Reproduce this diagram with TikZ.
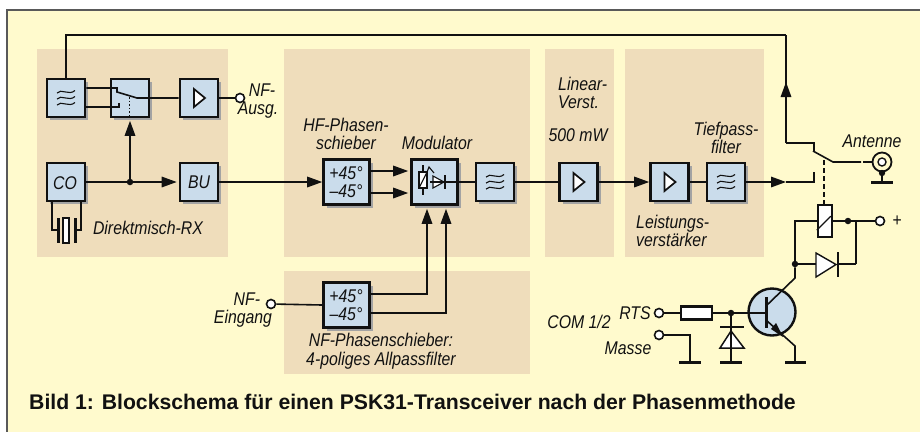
\documentclass[tikz,border=0pt]{standalone}
\usepackage{fontspec}
\setmainfont[FakeStretch=0.86]{Liberation Sans}
\newfontfamily\capfont{Liberation Sans}
\usetikzlibrary{shadows,arrows.meta,calc}
\definecolor{cream}{HTML}{FFFACD}
\definecolor{panel}{HTML}{EFDDBB}
\definecolor{boxblue}{HTML}{CADCEB}
\definecolor{shad}{HTML}{A3A3A3}
\definecolor{ink}{HTML}{111111}
\tikzset{
 panelbox/.style={fill=panel,draw=none},
 blk/.style={draw=ink,line width=2.6pt,fill=boxblue,inner sep=0pt,minimum width=38pt,minimum height=38pt,
   drop shadow={shadow xshift=3.2pt,shadow yshift=-3.2pt,fill=shad,opacity=1}},
 blkw/.style={blk,minimum width=46pt,minimum height=45pt},
 lbl/.style={inner sep=0pt,font=\itshape\fontsize{18.4}{18.6}\selectfont,text=ink},
 wire/.style={draw=ink,line width=1.6pt},
 arr/.style={wire,-{Triangle[length=15pt,width=10.5pt]}},
 term/.style={circle,draw=ink,line width=1.6pt,fill=white,minimum size=9pt,inner sep=0pt},
 dotj/.style={circle,fill=ink,minimum size=6.5pt,inner sep=0pt},
 wsym/.style={draw=ink,line width=1.4pt,fill=white},
 gnd/.style={draw=ink,line width=3pt},
}
\newcommand{\filtsym}[1]{%
 \foreach \dy in {-6,0,6}{
  \draw[draw=ink,line width=1.1pt] ($(#1)+(-9,\dy+1)$) .. controls ($(#1)+(-5,\dy-4)$) and ($(#1)+(3,\dy+4)$) .. ($(#1)+(9,\dy-1.5)$);
 }}
\newcommand{\ampsym}[1]{%
 \draw[wsym,line width=1.7pt,line join=miter] ($(#1)+(-5,-9)$) -- ($(#1)+(6,0)$) -- ($(#1)+(-5,9)$) -- cycle;}
\begin{document}
\begin{tikzpicture}[x=1pt,y=-1pt]
\useasboundingbox (0,0) rectangle (920,432);
\fill[white] (0,0) rectangle (920,432);
\fill[cream] (7,10) rectangle (920,432);
\draw[draw=black!65,line width=1.6pt] (920,10) -- (7,10) -- (7,432);
% panels
\fill[panelbox] (37,49) rectangle (228,257);
\fill[panelbox] (284,49) rectangle (530,257);
\fill[panelbox] (545,49) rectangle (614,257);
\fill[panelbox] (625,49) rectangle (764,257);
\fill[panelbox] (284,271) rectangle (530,374);
% blocks
\node[blk] (f1) at (66,98) {};
\node[blk] (sw) at (130,98) {};
\node[blk] (a1) at (199,98) {};
\node[blk] (co) at (66,182) {};
\node[blk] (bu) at (199,182) {};
\node[blkw] (hf) at (346.5,182) {};
\node[blkw] (mod) at (434.5,182) {};
\node[blk] (f2) at (495,182) {};
\node[blk] (a2) at (578.5,182) {};
\node[blkw] (nf) at (346.5,305) {};
\node[blk] (a3) at (669.5,182) {};
\node[blk] (f3) at (726,182) {};
\filtsym{f1}\filtsym{f2}\filtsym{f3}
\ampsym{a1}\ampsym{a2}\ampsym{a3}
% block texts
\node[lbl] (tco) at (65,183) {CO};
\node[lbl] (tbu) at (199,182) {BU};
\node[lbl,align=center] (thf) at (346,182) {+45°\\–45°};
\node[lbl,align=center] (tnf) at (346,305) {+45°\\–45°};
% free labels
\node[lbl,align=right] (tnfa) at (258,101) {NF-\rule{3pt}{0pt}\\Ausg.};
\node[lbl] (tdir) at (148,228) {Direktmisch-RX};
\node[lbl,align=center] (thfp) at (346,134) {HF-Phasen-\\schieber};
\node[lbl] (tmod) at (437,143) {Modulator};
\node[lbl,align=left,anchor=west] (tlin) at (558,93) {Linear-\\Verst.};
\node[lbl] (t500) at (578,135) {500 mW};
\node[lbl,align=center] (ttp) at (726,138) {Tiefpass-\\filter};
\node[lbl] (tant) at (872,141) {Antenne};
\node[lbl,align=left,anchor=west] (tlv) at (636,231) {Leistungs-\\verstärker};
\node[lbl] (tplus) at (897,221) {+};
\node[lbl] (tcom) at (579,322) {COM 1/2};
\node[lbl] (trts) at (635,313) {RTS};
\node[lbl] (tmas) at (628,348) {Masse};
\node[lbl,align=right] (tnfe) at (243,310) {NF-\rule{12pt}{0pt}\\Eingang};
\node[lbl,align=center] (tnfp) at (381,351) {NF-Phasenschieber:\\4-poliges Allpassfilter};
\node[inner sep=0pt,anchor=west,font=\capfont\bfseries\fontsize{21.2}{22}\selectfont,text=ink] (tcap) at (29,402) {Bild 1: Blockschema für einen PSK31-Transceiver nach der Phasenmethode};
% terminals and junctions
\node[term] (tnout) at (240,98) {};
\node[term] (tnin) at (271,304) {};
\node[term] (trt) at (659,313) {};
\node[term] (tma) at (659,335) {};
\node[term] (tpl) at (880,221) {};
\node[dotj] (j1) at (130,182) {};
\node[dotj] (j2) at (848,221) {};
\node[dotj] (j3) at (795,264) {};
\node[dotj] (j4) at (731,313) {};
% top feedback
\coordinate (ttop) at (786,35);
\coordinate (tmid) at (786,143);
\coordinate (swc) at (814,143);
\draw[wire] (f1.north) -- (66,35) -- (ttop);
\draw[wire] (ttop) -- (tmid);
\draw[arr] (tmid) -- (786,82);
\draw[wire] (tmid) -- (swc) -- (814,152);
% RX switch
\coordinate (s1) at (117,92);
\coordinate (s2) at (119,103);
\coordinate (s3) at (137,98);
\draw[wire] (f1.east |- 0,88) -- (117,88) -- (s1) -- (s3) -- (a1.west |- s3);
\draw[wire] (f1.east |- 0,107) -- (119,107) -- (s2);
\draw[wire,dotted,line width=1.7pt] (129.5,97) -- (129.5,117);
\draw[arr,shorten >=2.5pt] (j1) -- (sw.south -| j1);
\draw[arr,shorten >=2pt] (co.east) -- (bu.west);
\draw[wire] (a1.east) -- (tnout);
% crystal
\coordinate (q1) at (52,230);
\coordinate (q2) at (81,230);
\draw[wire] (52,201) -- (q1) -- (58,230);
\draw[wire] (81,201) -- (q2) -- (75,230);
\draw[draw=ink,line width=3pt] (58,218) -- (58,243) (75,218) -- (75,243);
\draw[wsym] (63,218) rectangle (69,243);
% main path
\draw[arr] (bu.east) -- (hf.west);
\draw[arr,shorten >=2pt] (hf.east |- 0,171) -- (mod.west |- 0,171);
\draw[arr,shorten >=2pt] (hf.east |- 0,193) -- (mod.west |- 0,193);
\draw[arr,shorten >=3pt] (nf.east |- 0,294) -- (427,294) -- (mod.south -| 427,0);
\draw[arr,shorten >=3pt] (nf.east |- 0,313) -- (446,313) -- (mod.south -| 446,0);
\draw[wire] (tnin) -- (nf.west);
% modulator symbol
\draw[draw=ink,line width=1.1pt] (423,165) -- (423,195);
\draw[wsym] (419,172) rectangle (427,188);
\draw[draw=ink,line width=1.1pt] (419,188) -- (427,172) -- (429,167) -- (434,173);
\draw[draw=ink,line width=1.1pt,fill=white] (433,176) -- (444,182) -- (433,188) -- cycle;
\draw[draw=ink,line width=1.7pt] (445,175) -- (445,189);
\draw[wire] (430,182) -- (f2.west);
\draw[wire] (f2.east) -- (a2.west);
\draw[arr] (a2.east) -- (a3.west);
\draw[wire] (a3.east) -- (f3.west);
% output switch
\coordinate (o1) at (814,182);
\draw[arr] (f3.east) -- (786,182);
\draw[wire] (786,182) -- (o1) -- (814,172);
\draw[wire] (813,151) -- (833,162) -- (861,162);
% antenna
\node[circle,draw=ink,line width=1.8pt,fill=none,minimum size=19pt,inner sep=0pt] (ant) at (882,162) {};
\node[circle,draw=ink,line width=1.4pt,fill=white,minimum size=8pt,inner sep=0pt] (anti) at (882,162) {};
\draw[wire] (863,162) -- (ant.west);
\draw[wire,line width=2.2pt] (ant.south) -- (882,182);
\fill[ink] (882,173) circle (3.2pt);
\draw[gnd] (871,182) -- (893,182);
% relay
\node[draw=ink,line width=2.4pt,fill=white,minimum width=14pt,minimum height=32pt,inner sep=0pt] (rel) at (825,221) {};
\draw[draw=ink,line width=1.1pt] (rel.south west) ++(0,-8) -- ++(14,-14);
\draw[wire,dash pattern=on 5pt off 3pt] (824,160) -- (rel.north -| 824,0);
\draw[wire] (rel.east) -- (j2) -- (tpl);
\draw[wire] (rel.west) -- (795,221) -- (j3);
\draw[wire] (j2 -| 856,0) -- (856,264);
\draw[wire] (856,264) -- (838,264);
\draw[wire] (j3) -- (816,264);
\draw[draw=ink,line width=1.4pt,fill=white] (816,253) -- (836,264.5) -- (816,277) -- cycle;
\draw[draw=ink,line width=2.4pt] (838,252) -- (838,277);
% transistor
\node[circle,draw=ink,line width=2.4pt,fill=boxblue,minimum size=47pt,inner sep=0pt] (tr) at (772,312) {};
\draw[wire] (j3) -- (795,278) -- (766,306);
\draw[draw=ink,line width=3pt] (766,297) -- (766,328);
\draw[wire] (766,320) -- (795,346) -- (795,362);
\fill[ink] (783,337) -- (771,329) -- (776,323) -- cycle;
\draw[gnd] (785,362) -- (806,362);
% input part
\node[wsym,line width=2.4pt,minimum width=31pt,minimum height=13pt,inner sep=0pt] (res) at (696.5,313) {};
\draw[wire] (trt) -- (res.west);
\draw[wire] (res.east) -- (j4) -- (766,313);
\draw[wire] (j4) -- (731,362);
\draw[draw=ink,line width=2.6pt] (720,327) -- (744,327);
\draw[draw=ink,line width=1.5pt,fill=white] (731,331) -- (744,348) -- (720,348) -- cycle;
\draw[wire] (731,331) -- (731,362);
\draw[gnd] (720,362) -- (742,362);
\draw[wire] (tma) -- (690,335) -- (690,362);
\draw[gnd] (679,362) -- (701,362);
\end{tikzpicture}
\end{document}
